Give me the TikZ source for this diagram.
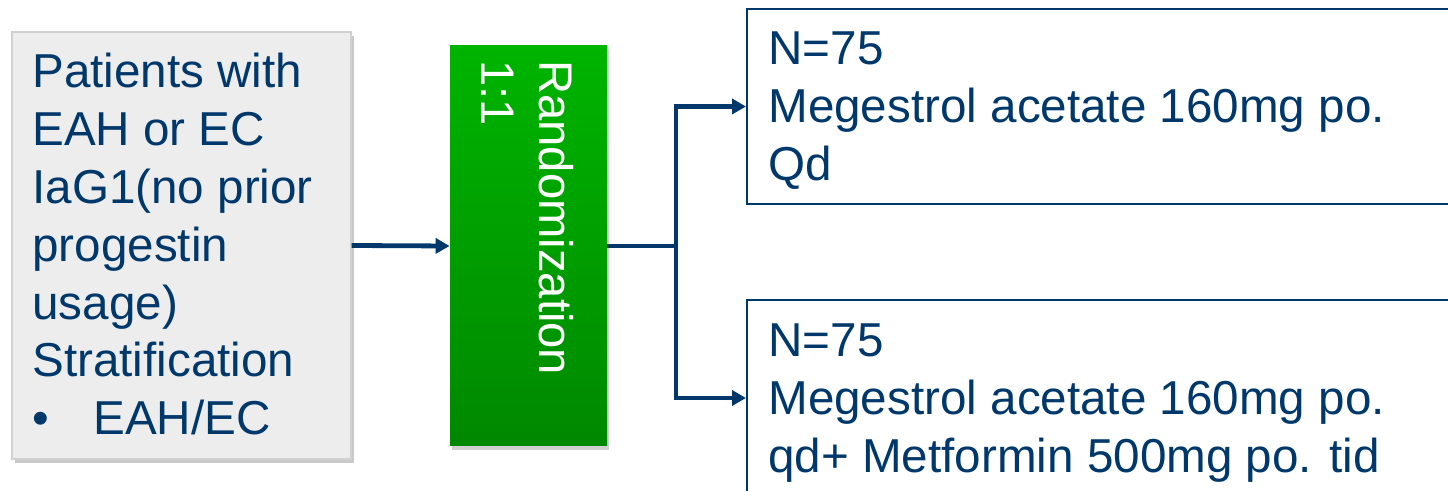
\documentclass[tikz,border=0pt]{standalone}
\usepackage{fontspec}
\setmainfont{Liberation Sans}
\usetikzlibrary{arrows.meta,shadows}
\definecolor{navy}{RGB}{0,56,107}
\definecolor{boxgray}{RGB}{237,237,237}
\definecolor{edgegray}{RGB}{208,208,208}
\definecolor{gtop}{RGB}{0,180,0}
\definecolor{gbot}{RGB}{0,136,0}
\begin{document}
\begin{tikzpicture}[x=0.5pt,y=-0.5pt,
  txt/.style={inner sep=0pt, font=\fontsize{23.8}{28.9}\selectfont, text=navy},
  wtxt/.style={inner sep=0pt, font=\fontsize{23.6}{28.6}\selectfont, text=white},
  graybox/.style={draw=edgegray, line width=0.6pt, fill=boxgray, inner sep=0pt,
    drop shadow={shadow xshift=1.5pt, shadow yshift=-2pt, opacity=0.35, fill=black!60}},
  greenbox/.style={inner sep=0pt, top color=gtop, bottom color=gbot, draw=none,
    drop shadow={shadow xshift=1pt, shadow yshift=-2pt, opacity=0.3, fill=black!60}},
  armbox/.style={draw=navy, line width=1pt, fill=white, inner sep=0pt},
  link/.style={draw=navy, line width=2.4pt},
  arr/.style={link, -{Triangle[length=7pt,width=7.5pt]}}
]
\useasboundingbox (0,0) rectangle (1448,491);
\clip (0,0) rectangle (1448,491);
\fill[white] (0,0) rectangle (1448,491);

% boxes
\node[graybox, minimum width=169.5pt, minimum height=213.5pt] (pat) at (181.5,245.5) {};
\node[greenbox, minimum width=78.5pt, minimum height=200pt] (rand) at (528.5,246) {};
\node[armbox, minimum width=356.5pt, minimum height=97.5pt] (top) at (1103.5,106.5) {};
\node[armbox, minimum width=356.5pt, minimum height=98pt] (bot) at (1103.5,398) {};

% texts
\node[txt, anchor=base west] (pattext) at (32,88) {\begin{tabular}[t]{@{}l@{}}Patients with\\EAH or EC\\IaG1(no prior\\progestin\\usage)\\Stratification\\\makebox[30.5pt][l]{\textbullet}EAH/EC\end{tabular}};
\node[wtxt, anchor=base west, rotate=-90] (randtext) at (539,60) {\begin{tabular}[t]{@{}l@{}}Randomization\\1:1\end{tabular}};
\node[txt, anchor=base west] (toptext) at (768,65) {\begin{tabular}[t]{@{}l@{}}N=75\\Megestrol acetate 160mg po.\\Qd\end{tabular}};
\node[txt, anchor=base west] (bottext) at (768,357) {\begin{tabular}[t]{@{}l@{}}N=75\\Megestrol acetate 160mg po.\\qd+ Metformin 500mg po. tid\end{tabular}};

% connectors
\coordinate (split) at (676,246);
\draw[arr] (pat.east) -- (rand.west);
\draw[link] (rand.east) -- (split);
\draw[arr] (split) |- (top.west);
\draw[arr] (split) |- (bot.west);
\end{tikzpicture}
\end{document}
